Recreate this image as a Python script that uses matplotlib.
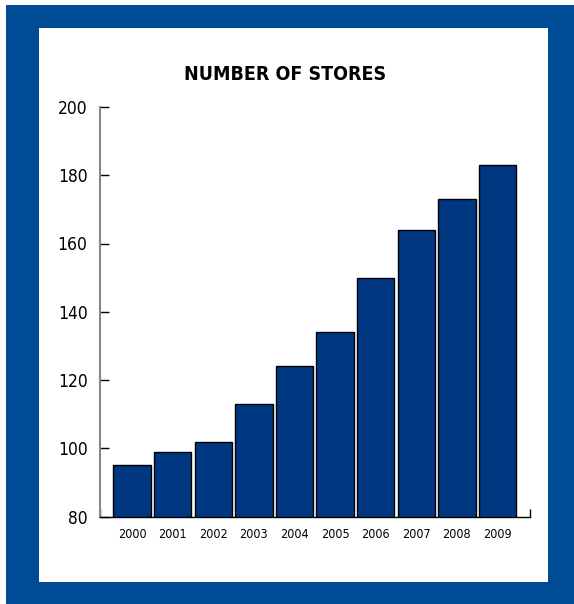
import matplotlib
matplotlib.use('Agg')
import matplotlib.pyplot as plt
from matplotlib.patches import Rectangle

plt.rcParams['font.family'] = ['Liberation Sans Narrow', 'DejaVu Sans']
plt.rcParams['font.stretch'] = 'condensed'

# store counts per year
years = ['2000', '2001', '2002', '2003', '2004', '2005', '2006', '2007', '2008', '2009']
stores = [95, 99, 102, 113, 124, 134, 150, 164, 173, 183]
y_ticks = [80, 100, 120, 140, 160, 180, 200]

W, H = 574, 604
fig = plt.figure(figsize=(W/100, H/100), dpi=100)

# blue frame with white panel
fig.patches.append(Rectangle((6/W, 0), 1 - 6/W, 1 - 5/H, transform=fig.transFigure,
                             facecolor='#004b96', edgecolor='none', zorder=0))
fig.patches.append(Rectangle((39/W, 1 - 582/H), (548-39)/W, (582-28)/H, transform=fig.transFigure,
                             facecolor='white', edgecolor='none', zorder=1))

ax = fig.add_axes([100/W, 1 - 516.7/H, 430/W, (516.7-106.9)/H])
ax.set_zorder(3)
ax.set_facecolor('none')
x = list(range(len(years)))
ax.bar(x, stores, width=0.92, color='#003781', edgecolor='black', linewidth=1.0)

ax.set_ylim(80, 200)
ax.set_xlim(-0.79, 9.8)
ax.set_yticks(y_ticks)
ax.set_xticks(x)
ax.set_xticklabels(years)
ax.tick_params(axis='y', direction='in', length=6.5, width=1, labelsize=12.5, pad=9, color='black')
ax.tick_params(axis='x', length=0, labelsize=9, pad=8)
ax.set_xticks([-0.79, 9.8], minor=True)
ax.tick_params(axis='x', which='minor', direction='in', length=6, width=1, color='black')

for s in ['top', 'right']:
    ax.spines[s].set_visible(False)
ax.spines['left'].set_color('#888888')
ax.spines['left'].set_linewidth(1.5)
ax.spines['bottom'].set_color('black')
ax.spines['bottom'].set_linewidth(1)

fig.text(285.5/W, 1 - 74/H, 'NUMBER OF STORES', ha='center', va='center',
         fontsize=14, fontweight='bold', zorder=4)

fig.savefig('out.png', dpi=100)
